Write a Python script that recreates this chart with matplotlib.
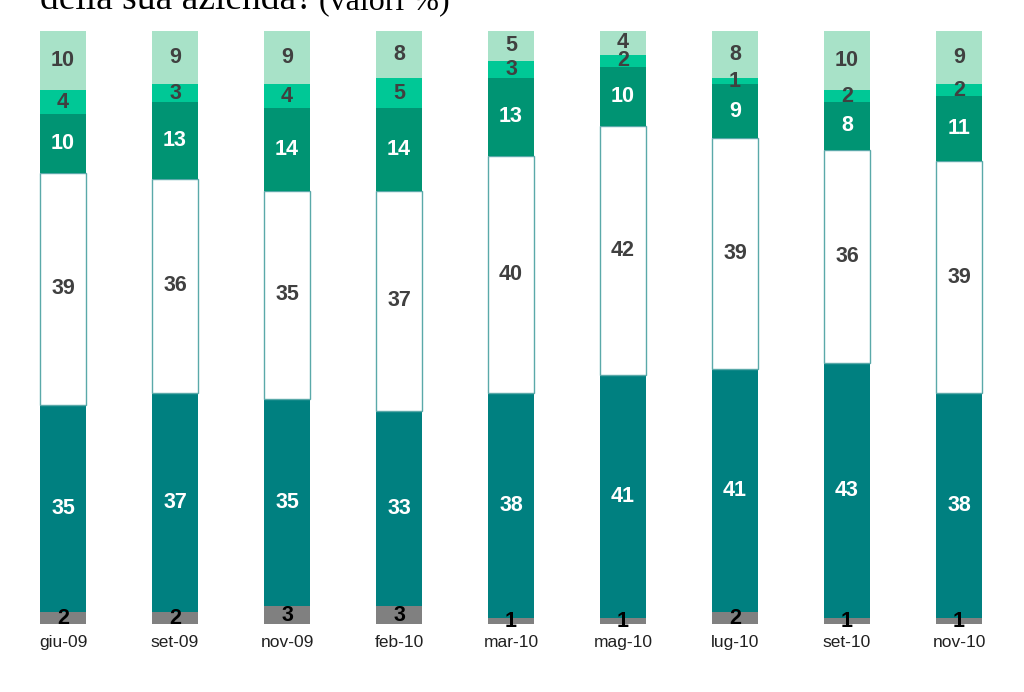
import matplotlib
matplotlib.use("Agg")
import matplotlib.pyplot as plt
import numpy as np

categories = ["giu-09", "set-09", "nov-09", "feb-10", "mar-10", "mag-10", "lug-10", "set-10", "nov-10"]
s_grey = [2, 2, 3, 3, 1, 1, 2, 1, 1]
s_teal = [35, 37, 35, 33, 38, 41, 41, 43, 38]
s_white = [39, 36, 35, 37, 40, 42, 39, 36, 39]
s_green = [10, 13, 14, 14, 13, 10, 9, 8, 11]
s_bright = [4, 3, 4, 5, 3, 2, 1, 2, 2]
s_light = [10, 9, 9, 8, 5, 4, 8, 10, 9]

series = [
    (s_grey, "#808080", "none", "#000000"),
    (s_teal, "#008080", "none", "#ffffff"),
    (s_white, "#ffffff", "#5aa9a9", "#404040"),
    (s_green, "#009473", "none", "#ffffff"),
    (s_bright, "#00c896", "none", "#404040"),
    (s_light, "#a8e2c8", "none", "#404040"),
]

W, H = 1024, 692
fig = plt.figure(figsize=(W / 100, H / 100), dpi=100)
ax = fig.add_axes([7 / W, 68 / H, 1008 / W, 593 / H])

x = np.arange(len(categories))
bottom = np.zeros(len(categories))
for vals, color, edge, tcolor in series:
    vals = np.array(vals, dtype=float)
    ax.bar(x, vals, bottom=bottom, width=0.41, color=color,
           edgecolor=edge, linewidth=1.0 if edge != "none" else 0)
    for xi, b, v in zip(x, bottom, vals):
        ax.text(xi, b + v / 2, f"{int(v)}", ha="center", va="center",
                fontsize=15.5, fontweight="bold", color=tcolor,
                family="Liberation Sans")
    bottom += vals

ax.set_xlim(-0.5, len(categories) - 0.5)
ax.set_ylim(0, 100)
ax.set_xticks(x)
ax.set_xticklabels(categories, fontsize=12.5, family="Liberation Sans", color="#202020")
ax.tick_params(axis="x", length=0, pad=8)
ax.set_yticks([])
for sp in ax.spines.values():
    sp.set_visible(False)

fig.text(40 / W, 1 - 9 / H, "della sua azienda?", fontsize=27, family="Liberation Serif",
         ha="left", va="baseline", color="#000000")
fig.text(319 / W, 1 - 9 / H, "(valori %)", fontsize=23, family="Liberation Serif",
         ha="left", va="baseline", color="#000000")

fig.savefig("out.png", dpi=100)
